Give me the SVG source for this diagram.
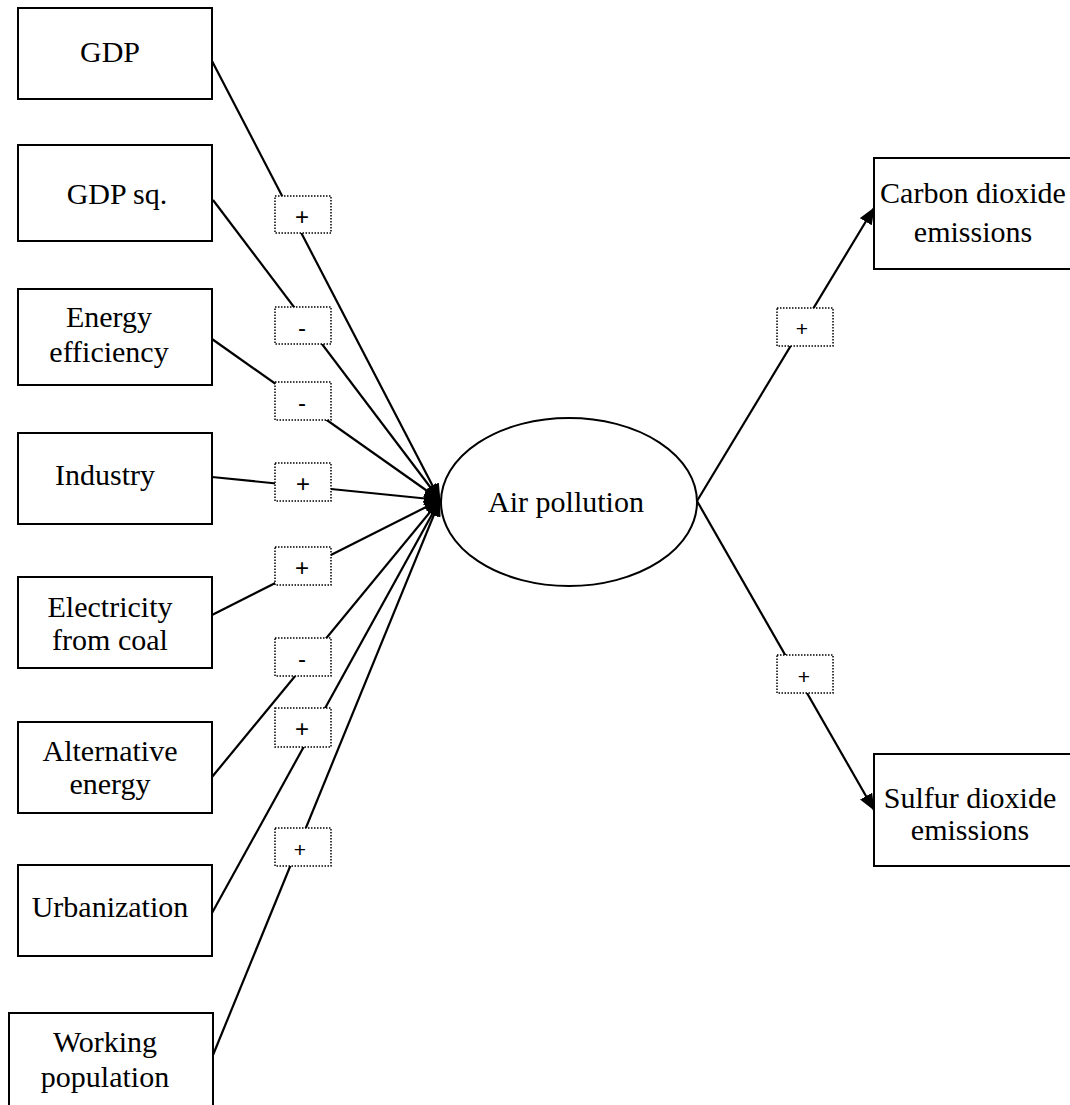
<svg xmlns="http://www.w3.org/2000/svg" width="1070" height="1105" viewBox="0 0 1070 1105">
<style>
.box{fill:#fff;stroke:#000;stroke-width:2}
.t{font-family:"Liberation Serif","Times New Roman",serif;font-size:30px;fill:#000;text-anchor:middle}
.lbl{fill:#fff;stroke:#000;stroke-width:1.5;stroke-dasharray:1.5 1.5}
.lt{font-family:"Liberation Sans",Arial,sans-serif;fill:#000;text-anchor:middle}
.c{stroke:#000;stroke-width:2.2;fill:none;marker-end:url(#ah)}
</style>
<defs>
<marker id="ah" markerWidth="17" markerHeight="14" refX="16" refY="7" orient="auto" markerUnits="userSpaceOnUse">
<path d="M0,0 L17,7 L0,14 Z" fill="#000"/>
</marker>
</defs>
<rect width="1070" height="1105" fill="#fff"/>
<g id="connectors">
<line class="c" x1="212" y1="61" x2="440" y2="500"/>
<line class="c" x1="213" y1="200" x2="440" y2="500"/>
<line class="c" x1="212" y1="339" x2="440" y2="500"/>
<line class="c" x1="212" y1="477" x2="440" y2="500"/>
<line class="c" x1="212" y1="615" x2="440" y2="500"/>
<line class="c" x1="212" y1="777" x2="440" y2="500"/>
<line class="c" x1="212" y1="913" x2="440" y2="500"/>
<line class="c" x1="213" y1="1055" x2="440" y2="500"/>
<line class="c" x1="697" y1="501" x2="874" y2="208"/>
<line class="c" x1="697" y1="501" x2="874" y2="810"/>
</g>
<g id="labels">
<rect class="lbl" x="275" y="196" width="56" height="37"/><text class="lt" x="302" y="225" font-size="24">+</text>
<rect class="lbl" x="275" y="307" width="56" height="37"/><text class="lt" x="302" y="336" font-size="24">-</text>
<rect class="lbl" x="275" y="382" width="56" height="38"/><text class="lt" x="302" y="411" font-size="24">-</text>
<rect class="lbl" x="275" y="463" width="56" height="38"/><text class="lt" x="303" y="492" font-size="24">+</text>
<rect class="lbl" x="275" y="547" width="56" height="38"/><text class="lt" x="302" y="576" font-size="24">+</text>
<rect class="lbl" x="275" y="638" width="56" height="38"/><text class="lt" x="302" y="667" font-size="24">-</text>
<rect class="lbl" x="275" y="708" width="56" height="39"/><text class="lt" x="302" y="737" font-size="24">+</text>
<rect class="lbl" x="275" y="828" width="56" height="38"/><text class="lt" x="300" y="857" font-size="21">+</text>
<rect class="lbl" x="777" y="308" width="56" height="38"/><text class="lt" x="802" y="336" font-size="21">+</text>
<rect class="lbl" x="777" y="655" width="56" height="38"/><text class="lt" x="804" y="684" font-size="21">+</text>
</g>
<g id="gdp"><rect class="box" x="18" y="8" width="194" height="91"/><text class="t" x="110" y="62">GDP</text></g>
<g id="gdpsq"><rect class="box" x="18" y="145" width="194" height="96"/><text class="t" x="117" y="204">GDP sq.</text></g>
<g id="energy"><rect class="box" x="18" y="289" width="194" height="96"/><text class="t" x="109" y="327">Energy</text><text class="t" x="109" y="362">efficiency</text></g>
<g id="industry"><rect class="box" x="18" y="433" width="194" height="91"/><text class="t" x="105" y="485">Industry</text></g>
<g id="electricity"><rect class="box" x="18" y="577" width="194" height="91"/><text class="t" x="110" y="617">Electricity</text><text class="t" x="110" y="650">from coal</text></g>
<g id="alternative"><rect class="box" x="18" y="722" width="194" height="91"/><text class="t" x="110" y="761">Alternative</text><text class="t" x="110" y="794">energy</text></g>
<g id="urbanization"><rect class="box" x="18" y="865" width="194" height="91"/><text class="t" x="110" y="917">Urbanization</text></g>
<g id="working"><rect class="box" x="9" y="1013" width="204" height="100"/><text class="t" x="105" y="1052">Working</text><text class="t" x="105" y="1087">population</text></g>
<g id="airpollution"><ellipse class="box" cx="569" cy="502" rx="128" ry="84"/><text class="t" x="566" y="512">Air pollution</text></g>
<g id="co2"><rect class="box" x="874" y="158" width="200" height="111"/><text class="t" x="973" y="203">Carbon dioxide</text><text class="t" x="973" y="242">emissions</text></g>
<g id="so2"><rect class="box" x="874" y="754" width="200" height="112"/><text class="t" x="970" y="808">Sulfur dioxide</text><text class="t" x="970" y="840">emissions</text></g>
</svg>
